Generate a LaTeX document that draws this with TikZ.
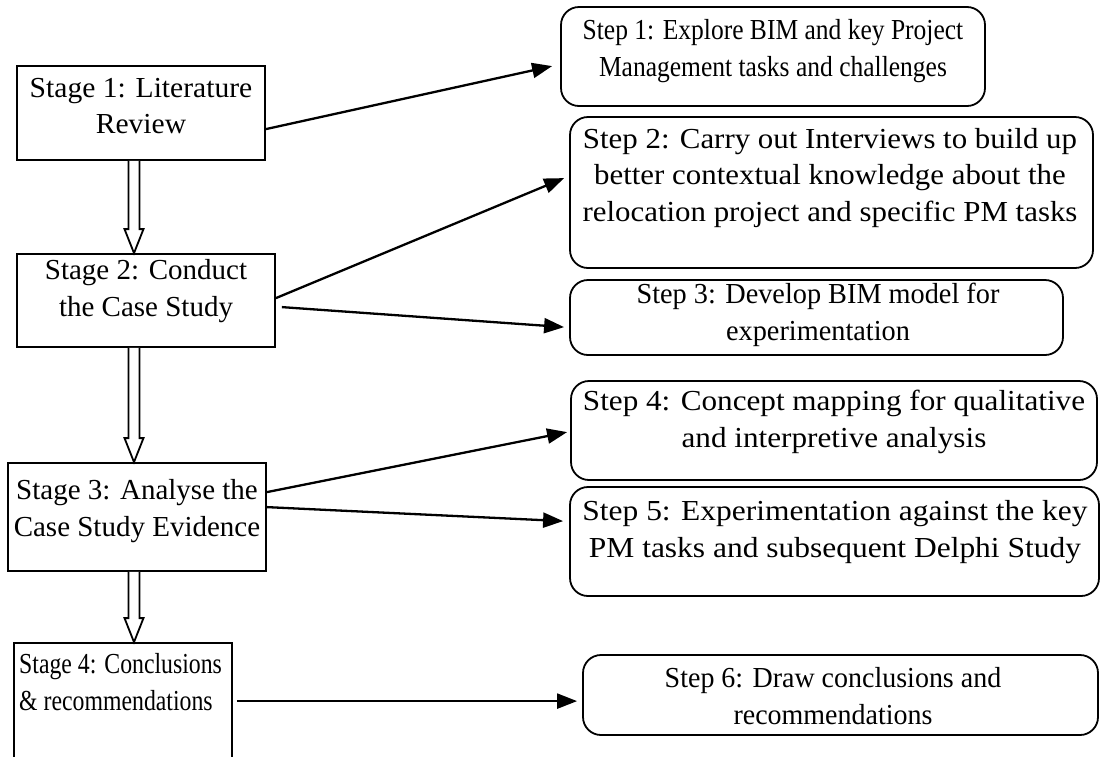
\documentclass[tikz,border=0pt]{standalone}
\usepackage{fontspec}
\setmainfont{Liberation Serif}
\usetikzlibrary{arrows.meta,fit,calc}
\newcommand{\txtfont}[1]{\fontsize{29}{36.5}\selectfont\addfontfeature{FakeStretch=#1}}
\begin{document}
\begin{tikzpicture}[x=1pt,y=-1pt,
 stagebox/.style={draw, line width=1.8pt, inner sep=0pt},
 stepbox/.style={draw, line width=1.8pt, rounded corners=18pt, inner sep=0pt},
 txt/.style={align=center, inner sep=0pt},
 arr/.style={line width=2.3pt, -{Triangle[length=20pt,width=15pt]}},
 blockarrow/.style={draw, line width=1.8pt, fill=white, line join=miter}
]
\useasboundingbox (0,0) rectangle (1115,756);
% stage boxes (left)
\node[stagebox, fit={(17,66) (265,160)}] (st1) {};
\node[stagebox, fit={(17,254) (275,347)}] (st2) {};
\node[stagebox, fit={(8,463) (266,571)}] (st3) {};
\node[stagebox, fit={(14,643) (232,775)}] (st4) {};
% step boxes (right)
\node[stepbox, fit={(561,7) (985,106)}] (p1) {};
\node[stepbox, fit={(570,117) (1093,268)}] (p2) {};
\node[stepbox, fit={(570,280) (1063,355)}] (p3) {};
\node[stepbox, fit={(571,381) (1097,480)}] (p4) {};
\node[stepbox, fit={(570,487) (1099,596)}] (p5) {};
\node[stepbox, fit={(583,655) (1098,735)}] (p6) {};
% texts
\node[txt, font=\txtfont{1.02}] (st1t) at (141,106) {Stage 1: Literature\\Review};
\node[txt, font=\txtfont{1.0}] (st2t) at (146,291) {Stage 2: Conduct\\the Case Study};
\node[txt, font=\txtfont{1.0}] (st3t) at (137,511) {Stage 3: Analyse the\\Case Study Evidence};
\node[txt, align=left, anchor=west, font=\txtfont{0.82}] (st4t) at (19,682) {Stage 4: Conclusions\\\& recommendations};
\node[txt, font=\txtfont{0.88}] (p1t) at (773,51) {Step 1: Explore BIM and key Project\\Management tasks and challenges};
\node[txt, font=\txtfont{1.065}] (p2t) at (830,178) {Step 2: Carry out Interviews to build up\\better contextual knowledge about the\\relocation project and specific PM tasks};
\node[txt, font=\txtfont{0.975}] (p3t) at (818,315) {Step 3: Develop BIM model for\\experimentation};
\node[txt, font=\txtfont{1.075}] (p4t) at (834,422) {Step 4: Concept mapping for qualitative\\and interpretive analysis};
\node[txt, font=\txtfont{1.085}] (p5t) at (835,532) {Step 5: Experimentation against the key\\PM tasks and subsequent Delphi Study};
\node[txt, font=\txtfont{0.965}] (p6t) at (833,696) {Step 6: Draw conclusions and\\recommendations};
% hollow block arrows between stages
\coordinate (axis) at (134,0);
\foreach \a/\b in {st1/st2, st2/st3, st3/st4}{
  \draw[blockarrow] let \p1=(\a.south -| axis), \p2=(\b.north -| axis) in
    (\x1-5.5pt,\y1) -- (\x1-5.5pt,\y2+24pt) -- (\x1-9.5pt,\y2+24pt) -- (\x2,\y2)
    -- (\x1+9.5pt,\y2+24pt) -- (\x1+5.5pt,\y2+24pt) -- (\x1+5.5pt,\y1);
}
% connectors
\draw[arr] ([yshift=-64pt]st1.north east) -- ([xshift=-8pt,yshift=-60pt]p1.north west);
\draw[arr] ([yshift=-45pt]st2.north east) -- ([xshift=-5pt,yshift=-62pt]p2.north west);
\draw[arr] ([xshift=6pt,yshift=-54pt]st2.north east) -- ([xshift=-5pt,yshift=-48pt]p3.north west);
\draw[arr] ([yshift=-30pt]st3.north east) -- ([xshift=-3pt,yshift=-52pt]p4.north west);
\draw[arr] ([yshift=-45pt]st3.north east) -- ([xshift=-6pt,yshift=-35pt]p5.north west);
\draw[arr] ([xshift=4pt,yshift=-59pt]st4.north east) -- ([xshift=-5pt,yshift=-47pt]p6.north west);
\end{tikzpicture}
\end{document}
